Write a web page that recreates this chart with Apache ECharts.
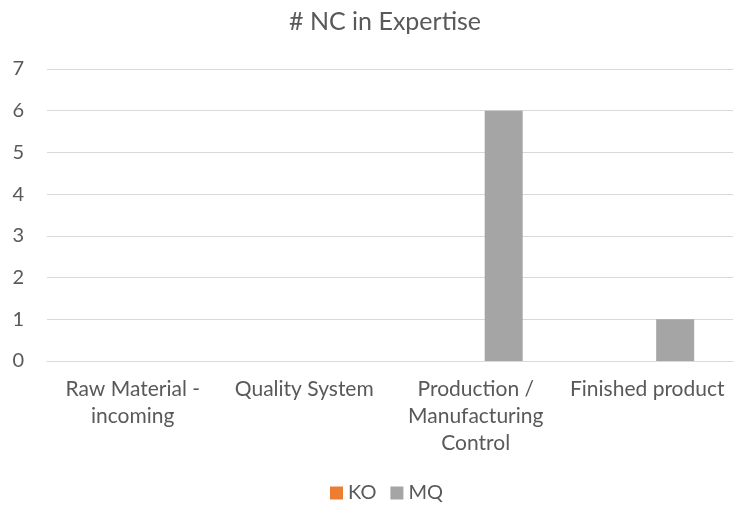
<!DOCTYPE html>
<html>
<head>
<meta charset="utf-8">
<script src="https://cdn.jsdelivr.net/npm/echarts@6/dist/echarts.min.js"></script>
<style>html,body{margin:0;padding:0;background:#fff;}#c{width:744px;height:512px;}</style>
</head>
<body>
<div id="c"></div>
<script>
var categories = ["Raw Material -\nincoming", "Quality System", "Production /\nManufacturing\nControl", "Finished product"];
var koValues = [0, 0, 0, 0];
var mqValues = [0, 0, 6, 1];
var yTicks = [0, 1, 2, 3, 4, 5, 6, 7];

var chart = echarts.init(document.getElementById('c'), null, {renderer: 'canvas'});
var font = 'Lato, Open Sans, sans-serif';
chart.setOption({
  animation: false,
  textStyle: {fontFamily: font},
  title: {
    text: '# NC in Expertise', left: 284, top: 4,
    textStyle: {fontFamily: font, fontSize: 25, fontWeight: 'normal', color: '#595959'}
  },
  legend: {
    bottom: 4, left: 325, itemWidth: 13, itemHeight: 13, itemGap: 14,
    icon: 'rect',
    textStyle: {fontFamily: font, fontSize: 20, color: '#595959'},
    data: ['KO', 'MQ']
  },
  grid: {left: 47, right: 11, top: 69, bottom: 151, containLabel: false},
  xAxis: {
    type: 'category', data: categories,
    axisLine: {show: true, lineStyle: {color: '#d9d9d9', width: 1}},
    axisTick: {show: false},
    axisLabel: {fontFamily: font, fontSize: 21, color: '#595959', lineHeight: 27, margin: 15, interval: 0}
  },
  yAxis: {
    type: 'value', min: yTicks[0], max: yTicks[yTicks.length - 1], interval: 1,
    axisLine: {show: false}, axisTick: {show: false},
    splitLine: {lineStyle: {color: '#d9d9d9', width: 1}},
    axisLabel: {fontFamily: font, fontSize: 20, color: '#595959', margin: 23}
  },
  series: [
    {name: 'KO', type: 'bar', data: koValues, barWidth: 38, barGap: '47%', itemStyle: {color: '#ED7D31'}},
    {name: 'MQ', type: 'bar', data: mqValues, barWidth: 38, itemStyle: {color: '#A5A5A5'}}
  ]
});
</script>
</body>
</html>
